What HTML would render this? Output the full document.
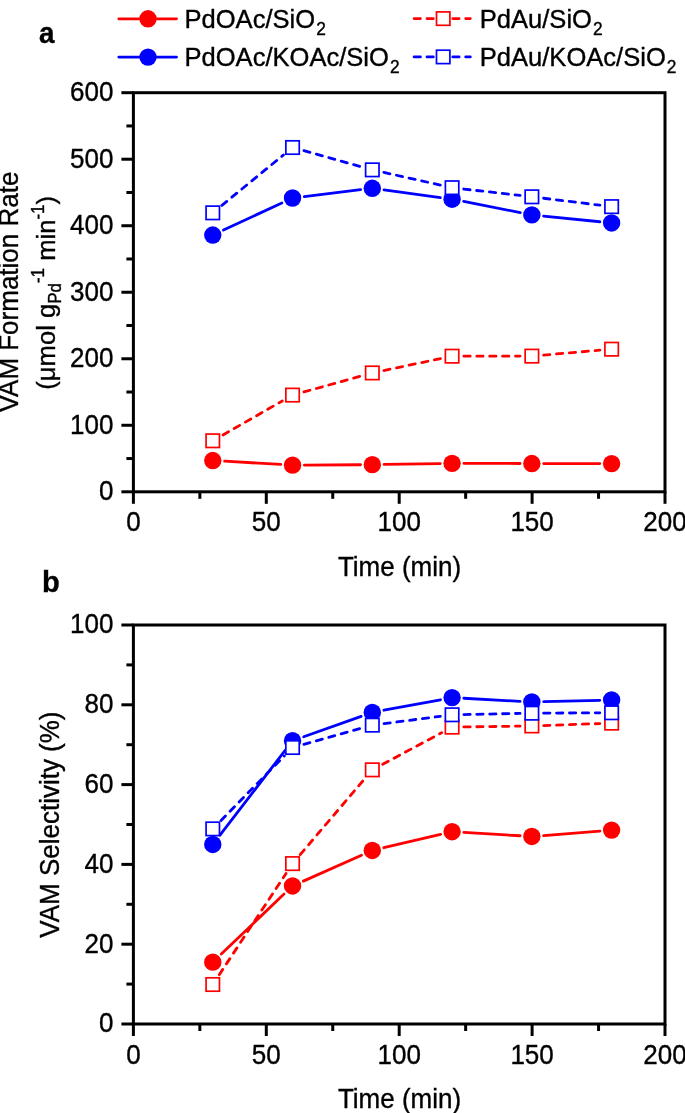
<!DOCTYPE html>
<html><head><meta charset="utf-8"><style>
html,body{margin:0;padding:0;background:#fff;}
svg{display:block;will-change:transform;}
text{font-family:"Liberation Sans",sans-serif;stroke:#000;stroke-width:0.35px;}
</style></head><body>
<svg width="685" height="1113" viewBox="0 0 685 1113">
<rect width="685" height="1113" fill="#fff"/>
<text transform="translate(39.00,42.80) scale(0.93,1.0)" text-anchor="start" font-size="30" font-weight="bold" font-family="Liberation Sans, sans-serif">a</text>
<text transform="translate(42.00,592.20) scale(0.97,1.0)" text-anchor="start" font-size="30" font-weight="bold" font-family="Liberation Sans, sans-serif">b</text>
<line x1="118.8" y1="18.8" x2="176.5" y2="18.8" stroke="#ff0000" stroke-width="2.8" stroke-linecap="round"/><circle cx="148.0" cy="18.8" r="8.7" fill="#ff0000"/>
<line x1="118.8" y1="57.1" x2="176.5" y2="57.1" stroke="#0000ff" stroke-width="2.8" stroke-linecap="round"/><circle cx="148.0" cy="57.1" r="8.7" fill="#0000ff"/>
<text transform="translate(184.50,27.60) scale(1.022,1.04)" text-anchor="start" font-size="25" font-family="Liberation Sans, sans-serif">PdOAc/SiO<tspan font-size="17" dx="1.1" dy="7.2">2</tspan></text>
<text transform="translate(184.50,65.60) scale(1.022,1.04)" text-anchor="start" font-size="25" font-family="Liberation Sans, sans-serif">PdOAc/KOAc/SiO<tspan font-size="17" dx="1.1" dy="7.2">2</tspan></text>
<line x1="414.1" y1="18.6" x2="470.3" y2="18.6" stroke="#ff0000" stroke-width="2.8" stroke-linecap="round" stroke-dasharray="6.3 6.6"/><rect x="436.5" y="11.900000000000002" width="13.4" height="13.4" fill="#fff" stroke="#ff0000" stroke-width="1.7"/>
<line x1="414.1" y1="56.9" x2="470.3" y2="56.9" stroke="#0000ff" stroke-width="2.8" stroke-linecap="round" stroke-dasharray="6.3 6.6"/><rect x="436.5" y="50.199999999999996" width="13.4" height="13.4" fill="#fff" stroke="#0000ff" stroke-width="1.7"/>
<text transform="translate(479.80,27.60) scale(1.022,1.04)" text-anchor="start" font-size="25" font-family="Liberation Sans, sans-serif">PdAu/SiO<tspan font-size="17" dx="1.1" dy="7.2">2</tspan></text>
<text transform="translate(479.80,65.60) scale(1.022,1.04)" text-anchor="start" font-size="25" font-family="Liberation Sans, sans-serif">PdAu/KOAc/SiO<tspan font-size="17" dx="1.1" dy="7.2">2</tspan></text>
<rect x="133.4" y="92.7" width="531.6" height="399.1" fill="none" stroke="#000" stroke-width="3"/>
<line x1="121.4" y1="491.80" x2="133.4" y2="491.80" stroke="#000" stroke-width="3"/>
<text transform="translate(113.40,500.20) scale(1.0,1.04)" text-anchor="end" font-size="26" font-family="Liberation Sans, sans-serif">0</text>
<line x1="121.4" y1="425.28" x2="133.4" y2="425.28" stroke="#000" stroke-width="3"/>
<text transform="translate(113.40,433.68) scale(1.0,1.04)" text-anchor="end" font-size="26" font-family="Liberation Sans, sans-serif">100</text>
<line x1="121.4" y1="358.77" x2="133.4" y2="358.77" stroke="#000" stroke-width="3"/>
<text transform="translate(113.40,367.17) scale(1.0,1.04)" text-anchor="end" font-size="26" font-family="Liberation Sans, sans-serif">200</text>
<line x1="121.4" y1="292.25" x2="133.4" y2="292.25" stroke="#000" stroke-width="3"/>
<text transform="translate(113.40,300.65) scale(1.0,1.04)" text-anchor="end" font-size="26" font-family="Liberation Sans, sans-serif">300</text>
<line x1="121.4" y1="225.73" x2="133.4" y2="225.73" stroke="#000" stroke-width="3"/>
<text transform="translate(113.40,234.13) scale(1.0,1.04)" text-anchor="end" font-size="26" font-family="Liberation Sans, sans-serif">400</text>
<line x1="121.4" y1="159.22" x2="133.4" y2="159.22" stroke="#000" stroke-width="3"/>
<text transform="translate(113.40,167.62) scale(1.0,1.04)" text-anchor="end" font-size="26" font-family="Liberation Sans, sans-serif">500</text>
<line x1="121.4" y1="92.70" x2="133.4" y2="92.70" stroke="#000" stroke-width="3"/>
<text transform="translate(113.40,101.10) scale(1.0,1.04)" text-anchor="end" font-size="26" font-family="Liberation Sans, sans-serif">600</text>
<line x1="126.4" y1="458.54" x2="133.4" y2="458.54" stroke="#000" stroke-width="3"/>
<line x1="126.4" y1="392.02" x2="133.4" y2="392.02" stroke="#000" stroke-width="3"/>
<line x1="126.4" y1="325.51" x2="133.4" y2="325.51" stroke="#000" stroke-width="3"/>
<line x1="126.4" y1="258.99" x2="133.4" y2="258.99" stroke="#000" stroke-width="3"/>
<line x1="126.4" y1="192.48" x2="133.4" y2="192.48" stroke="#000" stroke-width="3"/>
<line x1="126.4" y1="125.96" x2="133.4" y2="125.96" stroke="#000" stroke-width="3"/>
<line x1="133.40" y1="491.8" x2="133.40" y2="503.8" stroke="#000" stroke-width="3"/>
<text transform="translate(133.40,531.30) scale(1.0,1.04)" text-anchor="middle" font-size="26" font-family="Liberation Sans, sans-serif">0</text>
<line x1="266.30" y1="491.8" x2="266.30" y2="503.8" stroke="#000" stroke-width="3"/>
<text transform="translate(266.30,531.30) scale(1.0,1.04)" text-anchor="middle" font-size="26" font-family="Liberation Sans, sans-serif">50</text>
<line x1="399.20" y1="491.8" x2="399.20" y2="503.8" stroke="#000" stroke-width="3"/>
<text transform="translate(399.20,531.30) scale(1.0,1.04)" text-anchor="middle" font-size="26" font-family="Liberation Sans, sans-serif">100</text>
<line x1="532.10" y1="491.8" x2="532.10" y2="503.8" stroke="#000" stroke-width="3"/>
<text transform="translate(532.10,531.30) scale(1.0,1.04)" text-anchor="middle" font-size="26" font-family="Liberation Sans, sans-serif">150</text>
<line x1="665.00" y1="491.8" x2="665.00" y2="503.8" stroke="#000" stroke-width="3"/>
<text transform="translate(665.00,531.30) scale(1.0,1.04)" text-anchor="middle" font-size="26" font-family="Liberation Sans, sans-serif">200</text>
<line x1="199.85" y1="491.8" x2="199.85" y2="498.8" stroke="#000" stroke-width="3"/>
<line x1="332.75" y1="491.8" x2="332.75" y2="498.8" stroke="#000" stroke-width="3"/>
<line x1="465.65" y1="491.8" x2="465.65" y2="498.8" stroke="#000" stroke-width="3"/>
<line x1="598.55" y1="491.8" x2="598.55" y2="498.8" stroke="#000" stroke-width="3"/>
<text transform="translate(399.50,575.70) scale(1.0,1.04)" text-anchor="middle" font-size="26" font-family="Liberation Sans, sans-serif">Time (min)</text>
<text transform="translate(17.80,292.00) rotate(-90) scale(1.0,1.04)" text-anchor="middle" font-size="26" font-family="Liberation Sans, sans-serif">VAM Formation Rate</text>
<text transform="translate(54.80,292.80) rotate(-90) scale(1.0,1.04)" text-anchor="middle" font-size="25.6" font-family="Liberation Sans, sans-serif">(&#956;mol g<tspan font-size="17" dy="6">Pd</tspan><tspan font-size="17" dy="-16.2">-1</tspan><tspan dy="10.2"> min</tspan><tspan font-size="17" dy="-10.2">-1</tspan><tspan dy="10.2">)</tspan></text>
<rect x="133.4" y="625.0" width="531.6" height="399.0" fill="none" stroke="#000" stroke-width="3"/>
<line x1="121.4" y1="1024.00" x2="133.4" y2="1024.00" stroke="#000" stroke-width="3"/>
<text transform="translate(113.40,1032.40) scale(1.0,1.04)" text-anchor="end" font-size="26" font-family="Liberation Sans, sans-serif">0</text>
<line x1="121.4" y1="944.20" x2="133.4" y2="944.20" stroke="#000" stroke-width="3"/>
<text transform="translate(113.40,952.60) scale(1.0,1.04)" text-anchor="end" font-size="26" font-family="Liberation Sans, sans-serif">20</text>
<line x1="121.4" y1="864.40" x2="133.4" y2="864.40" stroke="#000" stroke-width="3"/>
<text transform="translate(113.40,872.80) scale(1.0,1.04)" text-anchor="end" font-size="26" font-family="Liberation Sans, sans-serif">40</text>
<line x1="121.4" y1="784.60" x2="133.4" y2="784.60" stroke="#000" stroke-width="3"/>
<text transform="translate(113.40,793.00) scale(1.0,1.04)" text-anchor="end" font-size="26" font-family="Liberation Sans, sans-serif">60</text>
<line x1="121.4" y1="704.80" x2="133.4" y2="704.80" stroke="#000" stroke-width="3"/>
<text transform="translate(113.40,713.20) scale(1.0,1.04)" text-anchor="end" font-size="26" font-family="Liberation Sans, sans-serif">80</text>
<line x1="121.4" y1="625.00" x2="133.4" y2="625.00" stroke="#000" stroke-width="3"/>
<text transform="translate(113.40,633.40) scale(1.0,1.04)" text-anchor="end" font-size="26" font-family="Liberation Sans, sans-serif">100</text>
<line x1="126.4" y1="984.10" x2="133.4" y2="984.10" stroke="#000" stroke-width="3"/>
<line x1="126.4" y1="904.30" x2="133.4" y2="904.30" stroke="#000" stroke-width="3"/>
<line x1="126.4" y1="824.50" x2="133.4" y2="824.50" stroke="#000" stroke-width="3"/>
<line x1="126.4" y1="744.70" x2="133.4" y2="744.70" stroke="#000" stroke-width="3"/>
<line x1="126.4" y1="664.90" x2="133.4" y2="664.90" stroke="#000" stroke-width="3"/>
<line x1="133.40" y1="1024.0" x2="133.40" y2="1036.0" stroke="#000" stroke-width="3"/>
<text transform="translate(133.40,1063.50) scale(1.0,1.04)" text-anchor="middle" font-size="26" font-family="Liberation Sans, sans-serif">0</text>
<line x1="266.30" y1="1024.0" x2="266.30" y2="1036.0" stroke="#000" stroke-width="3"/>
<text transform="translate(266.30,1063.50) scale(1.0,1.04)" text-anchor="middle" font-size="26" font-family="Liberation Sans, sans-serif">50</text>
<line x1="399.20" y1="1024.0" x2="399.20" y2="1036.0" stroke="#000" stroke-width="3"/>
<text transform="translate(399.20,1063.50) scale(1.0,1.04)" text-anchor="middle" font-size="26" font-family="Liberation Sans, sans-serif">100</text>
<line x1="532.10" y1="1024.0" x2="532.10" y2="1036.0" stroke="#000" stroke-width="3"/>
<text transform="translate(532.10,1063.50) scale(1.0,1.04)" text-anchor="middle" font-size="26" font-family="Liberation Sans, sans-serif">150</text>
<line x1="665.00" y1="1024.0" x2="665.00" y2="1036.0" stroke="#000" stroke-width="3"/>
<text transform="translate(665.00,1063.50) scale(1.0,1.04)" text-anchor="middle" font-size="26" font-family="Liberation Sans, sans-serif">200</text>
<line x1="199.85" y1="1024.0" x2="199.85" y2="1031.0" stroke="#000" stroke-width="3"/>
<line x1="332.75" y1="1024.0" x2="332.75" y2="1031.0" stroke="#000" stroke-width="3"/>
<line x1="465.65" y1="1024.0" x2="465.65" y2="1031.0" stroke="#000" stroke-width="3"/>
<line x1="598.55" y1="1024.0" x2="598.55" y2="1031.0" stroke="#000" stroke-width="3"/>
<text transform="translate(399.50,1107.90) scale(1.0,1.04)" text-anchor="middle" font-size="26" font-family="Liberation Sans, sans-serif">Time (min)</text>
<text transform="translate(59.30,824.60) rotate(-90) scale(1.0,1.04)" text-anchor="middle" font-size="26" font-family="Liberation Sans, sans-serif">VAM Selectivity (%)</text>
<line x1="224.55" y1="461.21" x2="280.76" y2="464.45" stroke="#ff0000" stroke-width="2.8" stroke-linecap="round"/>
<line x1="304.34" y1="465.06" x2="360.51" y2="464.73" stroke="#ff0000" stroke-width="2.8" stroke-linecap="round"/>
<line x1="384.11" y1="464.46" x2="440.28" y2="463.53" stroke="#ff0000" stroke-width="2.8" stroke-linecap="round"/>
<line x1="463.88" y1="463.36" x2="520.05" y2="463.50" stroke="#ff0000" stroke-width="2.8" stroke-linecap="round"/>
<line x1="543.65" y1="463.54" x2="599.82" y2="463.59" stroke="#ff0000" stroke-width="2.8" stroke-linecap="round"/>
<line x1="223.01" y1="434.92" x2="282.30" y2="400.95" stroke="#ff0000" stroke-width="2.8" stroke-linecap="round" stroke-dasharray="6.3 6.6"/>
<line x1="303.91" y1="391.93" x2="360.94" y2="376.09" stroke="#ff0000" stroke-width="2.8" stroke-linecap="round" stroke-dasharray="6.3 6.6"/>
<line x1="383.86" y1="370.51" x2="440.53" y2="358.60" stroke="#ff0000" stroke-width="2.8" stroke-linecap="round" stroke-dasharray="6.3 6.6"/>
<line x1="463.88" y1="356.16" x2="520.05" y2="356.12" stroke="#ff0000" stroke-width="2.8" stroke-linecap="round" stroke-dasharray="6.3 6.6"/>
<line x1="543.61" y1="355.09" x2="599.86" y2="350.21" stroke="#ff0000" stroke-width="2.8" stroke-linecap="round" stroke-dasharray="6.3 6.6"/>
<line x1="223.47" y1="230.08" x2="281.84" y2="202.97" stroke="#0000ff" stroke-width="2.8" stroke-linecap="round"/>
<line x1="304.25" y1="196.57" x2="360.60" y2="189.71" stroke="#0000ff" stroke-width="2.8" stroke-linecap="round"/>
<line x1="384.00" y1="189.88" x2="440.39" y2="197.59" stroke="#0000ff" stroke-width="2.8" stroke-linecap="round"/>
<line x1="463.66" y1="201.47" x2="520.27" y2="212.61" stroke="#0000ff" stroke-width="2.8" stroke-linecap="round"/>
<line x1="543.59" y1="216.08" x2="599.88" y2="221.76" stroke="#0000ff" stroke-width="2.8" stroke-linecap="round"/>
<line x1="221.90" y1="205.35" x2="283.41" y2="154.99" stroke="#0000ff" stroke-width="2.8" stroke-linecap="round" stroke-dasharray="6.3 6.6"/>
<line x1="303.90" y1="150.69" x2="360.95" y2="166.68" stroke="#0000ff" stroke-width="2.8" stroke-linecap="round" stroke-dasharray="6.3 6.6"/>
<line x1="383.83" y1="172.43" x2="440.56" y2="185.11" stroke="#0000ff" stroke-width="2.8" stroke-linecap="round" stroke-dasharray="6.3 6.6"/>
<line x1="463.80" y1="189.03" x2="520.13" y2="195.46" stroke="#0000ff" stroke-width="2.8" stroke-linecap="round" stroke-dasharray="6.3 6.6"/>
<line x1="543.56" y1="198.24" x2="599.91" y2="205.20" stroke="#0000ff" stroke-width="2.8" stroke-linecap="round" stroke-dasharray="6.3 6.6"/>
<circle cx="212.77" cy="460.54" r="8.7" fill="#ff0000"/>
<circle cx="292.54" cy="465.13" r="8.7" fill="#ff0000"/>
<circle cx="372.31" cy="464.66" r="8.7" fill="#ff0000"/>
<circle cx="452.08" cy="463.33" r="8.7" fill="#ff0000"/>
<circle cx="531.85" cy="463.53" r="8.7" fill="#ff0000"/>
<circle cx="611.62" cy="463.60" r="8.7" fill="#ff0000"/>
<rect x="206.07" y="434.08" width="13.4" height="13.4" fill="#fff" stroke="#ff0000" stroke-width="1.7"/>
<rect x="285.84" y="388.38" width="13.4" height="13.4" fill="#fff" stroke="#ff0000" stroke-width="1.7"/>
<rect x="365.61" y="366.23" width="13.4" height="13.4" fill="#fff" stroke="#ff0000" stroke-width="1.7"/>
<rect x="445.38" y="349.47" width="13.4" height="13.4" fill="#fff" stroke="#ff0000" stroke-width="1.7"/>
<rect x="525.15" y="349.41" width="13.4" height="13.4" fill="#fff" stroke="#ff0000" stroke-width="1.7"/>
<rect x="604.92" y="342.49" width="13.4" height="13.4" fill="#fff" stroke="#ff0000" stroke-width="1.7"/>
<circle cx="212.77" cy="235.05" r="8.7" fill="#0000ff"/>
<circle cx="292.54" cy="198.00" r="8.7" fill="#0000ff"/>
<circle cx="372.31" cy="188.28" r="8.7" fill="#0000ff"/>
<circle cx="452.08" cy="199.19" r="8.7" fill="#0000ff"/>
<circle cx="531.85" cy="214.89" r="8.7" fill="#0000ff"/>
<circle cx="611.62" cy="222.94" r="8.7" fill="#0000ff"/>
<rect x="206.07" y="206.13" width="13.4" height="13.4" fill="#fff" stroke="#0000ff" stroke-width="1.7"/>
<rect x="285.84" y="140.81" width="13.4" height="13.4" fill="#fff" stroke="#0000ff" stroke-width="1.7"/>
<rect x="365.61" y="163.16" width="13.4" height="13.4" fill="#fff" stroke="#0000ff" stroke-width="1.7"/>
<rect x="445.38" y="180.99" width="13.4" height="13.4" fill="#fff" stroke="#0000ff" stroke-width="1.7"/>
<rect x="525.15" y="190.10" width="13.4" height="13.4" fill="#fff" stroke="#0000ff" stroke-width="1.7"/>
<rect x="604.92" y="199.94" width="13.4" height="13.4" fill="#fff" stroke="#0000ff" stroke-width="1.7"/>
<line x1="221.30" y1="954.00" x2="284.01" y2="894.10" stroke="#ff0000" stroke-width="2.8" stroke-linecap="round"/>
<line x1="303.32" y1="881.15" x2="361.53" y2="855.23" stroke="#ff0000" stroke-width="2.8" stroke-linecap="round"/>
<line x1="383.80" y1="847.73" x2="440.59" y2="834.38" stroke="#ff0000" stroke-width="2.8" stroke-linecap="round"/>
<line x1="463.86" y1="832.39" x2="520.07" y2="835.76" stroke="#ff0000" stroke-width="2.8" stroke-linecap="round"/>
<line x1="543.61" y1="835.53" x2="599.86" y2="831.03" stroke="#ff0000" stroke-width="2.8" stroke-linecap="round"/>
<line x1="219.27" y1="974.65" x2="286.04" y2="873.45" stroke="#ff0000" stroke-width="2.8" stroke-linecap="round" stroke-dasharray="6.3 6.6"/>
<line x1="300.19" y1="854.61" x2="364.66" y2="778.82" stroke="#ff0000" stroke-width="2.8" stroke-linecap="round" stroke-dasharray="6.3 6.6"/>
<line x1="382.71" y1="764.27" x2="441.68" y2="732.71" stroke="#ff0000" stroke-width="2.8" stroke-linecap="round" stroke-dasharray="6.3 6.6"/>
<line x1="463.88" y1="726.97" x2="520.05" y2="726.12" stroke="#ff0000" stroke-width="2.8" stroke-linecap="round" stroke-dasharray="6.3 6.6"/>
<line x1="543.64" y1="725.53" x2="599.83" y2="723.57" stroke="#ff0000" stroke-width="2.8" stroke-linecap="round" stroke-dasharray="6.3 6.6"/>
<line x1="219.96" y1="835.10" x2="285.35" y2="750.06" stroke="#0000ff" stroke-width="2.8" stroke-linecap="round"/>
<line x1="303.66" y1="736.76" x2="361.19" y2="716.33" stroke="#0000ff" stroke-width="2.8" stroke-linecap="round"/>
<line x1="383.91" y1="710.23" x2="440.48" y2="699.77" stroke="#0000ff" stroke-width="2.8" stroke-linecap="round"/>
<line x1="463.86" y1="698.27" x2="520.07" y2="701.36" stroke="#0000ff" stroke-width="2.8" stroke-linecap="round"/>
<line x1="543.65" y1="701.71" x2="599.82" y2="700.31" stroke="#0000ff" stroke-width="2.8" stroke-linecap="round"/>
<line x1="221.03" y1="820.46" x2="284.28" y2="755.92" stroke="#0000ff" stroke-width="2.8" stroke-linecap="round" stroke-dasharray="6.3 6.6"/>
<line x1="303.90" y1="744.31" x2="360.95" y2="728.33" stroke="#0000ff" stroke-width="2.8" stroke-linecap="round" stroke-dasharray="6.3 6.6"/>
<line x1="384.01" y1="723.63" x2="440.38" y2="716.30" stroke="#0000ff" stroke-width="2.8" stroke-linecap="round" stroke-dasharray="6.3 6.6"/>
<line x1="463.88" y1="714.54" x2="520.05" y2="713.42" stroke="#0000ff" stroke-width="2.8" stroke-linecap="round" stroke-dasharray="6.3 6.6"/>
<line x1="543.65" y1="713.12" x2="599.82" y2="712.84" stroke="#0000ff" stroke-width="2.8" stroke-linecap="round" stroke-dasharray="6.3 6.6"/>
<circle cx="212.77" cy="962.15" r="8.7" fill="#ff0000"/>
<circle cx="292.54" cy="885.95" r="8.7" fill="#ff0000"/>
<circle cx="372.31" cy="850.43" r="8.7" fill="#ff0000"/>
<circle cx="452.08" cy="831.68" r="8.7" fill="#ff0000"/>
<circle cx="531.85" cy="836.47" r="8.7" fill="#ff0000"/>
<circle cx="611.62" cy="830.09" r="8.7" fill="#ff0000"/>
<rect x="206.07" y="977.80" width="13.4" height="13.4" fill="#fff" stroke="#ff0000" stroke-width="1.7"/>
<rect x="285.84" y="856.90" width="13.4" height="13.4" fill="#fff" stroke="#ff0000" stroke-width="1.7"/>
<rect x="365.61" y="763.14" width="13.4" height="13.4" fill="#fff" stroke="#ff0000" stroke-width="1.7"/>
<rect x="445.38" y="720.44" width="13.4" height="13.4" fill="#fff" stroke="#ff0000" stroke-width="1.7"/>
<rect x="525.15" y="719.25" width="13.4" height="13.4" fill="#fff" stroke="#ff0000" stroke-width="1.7"/>
<rect x="604.92" y="716.45" width="13.4" height="13.4" fill="#fff" stroke="#ff0000" stroke-width="1.7"/>
<circle cx="212.77" cy="844.45" r="8.7" fill="#0000ff"/>
<circle cx="292.54" cy="740.71" r="8.7" fill="#0000ff"/>
<circle cx="372.31" cy="712.38" r="8.7" fill="#0000ff"/>
<circle cx="452.08" cy="697.62" r="8.7" fill="#0000ff"/>
<circle cx="531.85" cy="702.01" r="8.7" fill="#0000ff"/>
<circle cx="611.62" cy="700.01" r="8.7" fill="#0000ff"/>
<rect x="206.07" y="822.19" width="13.4" height="13.4" fill="#fff" stroke="#0000ff" stroke-width="1.7"/>
<rect x="285.84" y="740.79" width="13.4" height="13.4" fill="#fff" stroke="#0000ff" stroke-width="1.7"/>
<rect x="365.61" y="718.45" width="13.4" height="13.4" fill="#fff" stroke="#0000ff" stroke-width="1.7"/>
<rect x="445.38" y="708.07" width="13.4" height="13.4" fill="#fff" stroke="#0000ff" stroke-width="1.7"/>
<rect x="525.15" y="706.48" width="13.4" height="13.4" fill="#fff" stroke="#0000ff" stroke-width="1.7"/>
<rect x="604.92" y="706.08" width="13.4" height="13.4" fill="#fff" stroke="#0000ff" stroke-width="1.7"/>
</svg>
</body></html>
